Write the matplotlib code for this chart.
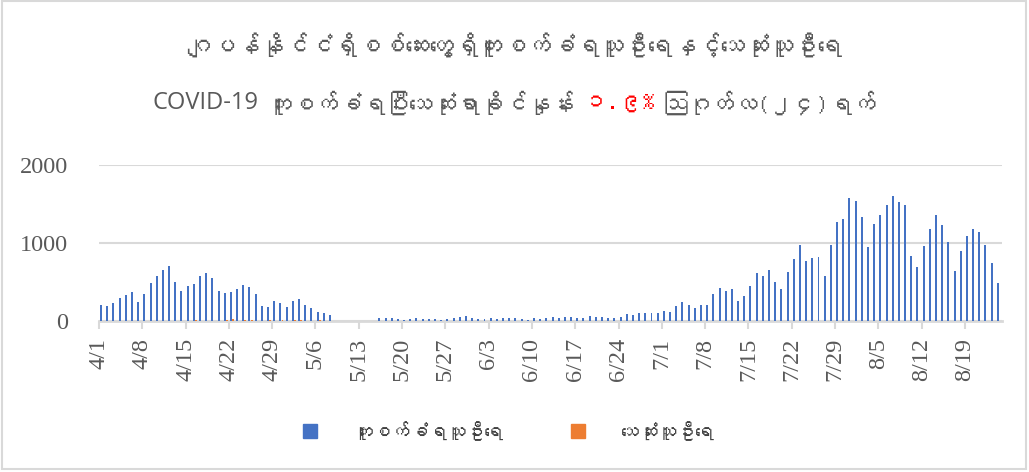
import numpy as np
import pandas as pd
import matplotlib
matplotlib.use('Agg')
import matplotlib.pyplot as plt
from matplotlib import font_manager
from matplotlib.ft2font import FT2Font
from matplotlib.lines import Line2D
from matplotlib.patches import Rectangle

# daily values from 4/1 (one per day)
start_date = '2020-04-01'
cases = [205, 188, 226, 295, 333, 372, 239, 346, 491, 573,
         650, 709, 500, 380, 449, 474, 577, 620, 556, 380,
         359, 372, 415, 462, 436, 342, 192, 179, 261, 226,
         179, 256, 286, 209, 167, 120, 103, 77,
         0, 0, 0, 0, 0, 0, 0,
         43, 43, 43, 26, 9, 30, 38, 26, 26, 26,
         17, 26, 38, 56, 68, 43, 26, 30, 43, 26,
         43, 43, 43, 30, 13, 38, 30, 38, 56, 43,
         56, 56, 43, 43, 68, 56, 56, 43, 43, 56,
         94, 81, 98, 107, 106, 102, 128,
         119, 187, 247, 200, 166, 209, 200, 349, 417, 379,
         404, 260, 323, 451, 617, 583, 660, 506, 413, 626,
         791, 974, 770, 804, 826, 574, 974, 1264, 1306, 1574,
         1536, 1328, 953, 1238, 1357, 1485, 1600, 1528, 1489, 834,
         694, 966, 1174, 1357, 1230, 1017, 638, 902, 1085, 1183,
         1136, 979, 740, 489]
deaths = [1, 2, 1, 3, 2, 3, 2, 4, 3, 5,
          4, 4, 2, 5, 3, 13, 4, 6, 5, 4,
          14, 27, 5, 15, 12, 6, 5, 13, 4, 13,
          5, 14, 15, 6, 4, 12, 3, 4,
          0, 0, 0, 0, 0, 0, 0,
          2, 1, 1, 2, 1, 1, 2, 1, 1, 1,
          1, 1, 2, 1, 1, 1, 1, 1, 0, 1,
          1, 1, 0, 1, 1, 0, 1, 1, 1, 0,
          1, 0, 1, 1, 0, 1, 0, 1, 1, 0,
          1, 0, 1, 1, 0, 1, 0,
          1, 0, 1, 0, 1, 1, 0, 1, 1, 1,
          0, 1, 1, 1, 0, 1, 1, 1, 1, 1,
          1, 1, 1, 2, 1, 1, 2, 2, 1, 2,
          2, 2, 3, 2, 3, 2, 3, 3, 2, 3,
          3, 4, 3, 3, 4, 3, 3, 4, 4, 3,
          3, 4, 3, 3]

title1 = 'ဂျပန်နိုင်ငံရှိစစ်ဆေးတွေ့ရှိကူးစက်ခံရသူဦးရေနှင့်သေဆုံးသူဦးရေ'
title2 = ['COVID-19', 'ကူးစက်ခံရပြီးသေဆုံးရာခိုင်နှုန်း', '၁.၉%', 'ဩဂုတ်လ(၂၄)ရက်']
series_names = ['ကူးစက်ခံရသူဦးရေ', 'သေဆုံးသူဦးရေ']


def find_font(ch):
    for f in font_manager.fontManager.ttflist:
        try:
            if ord(ch) in FT2Font(f.fname).get_charmap():
                return f.name
        except Exception:
            pass
    return None


mm = find_font('က')
mm_family = [mm, 'DejaVu Sans'] if mm else ['Noto Sans', 'DejaVu Sans']

dates = pd.date_range(start_date, periods=len(cases))
labels = [f'{d.month}/{d.day}' for d in dates]
x = np.arange(len(cases))

W, H = 1029, 472
fig = plt.figure(figsize=(W / 100, H / 100), dpi=100)
ax = fig.add_axes([99 / W, 1 - 321 / H, 903 / W, 156 / H])

ax.bar(x - 0.17, cases, width=0.32, color='#4472C4', zorder=3)
ax.bar(x + 0.17, deaths, width=0.32, color='#ED7D31', zorder=3)

ax.set_xlim(-0.5, len(x) - 0.5)
ax.set_ylim(0, 2000)
ax.set_yticks([0, 1000, 2000])
ax.set_xticks(x[::7] - 0.5)
ax.set_xticklabels(labels[::7], rotation=90)
for lab in ax.get_xticklabels() + ax.get_yticklabels():
    lab.set_family('Liberation Serif')
    lab.set_fontsize(17.5)
    lab.set_color('#595959')

ax.grid(axis='y', color='#D9D9D9', lw=1.5, zorder=0)
for s in ['top', 'right', 'left']:
    ax.spines[s].set_visible(False)
ax.spines['bottom'].set_color('#D9D9D9')
ax.spines['bottom'].set_linewidth(2)
ax.tick_params(axis='x', length=6, width=1.5, color='#D9D9D9', pad=6)
ax.tick_params(axis='y', length=0, pad=22)

# title
fig.text(0.5, 1 - 45 / H, title1, ha='center', va='center', family=mm_family,
         fontsize=17.5, color='#595959')

fig.canvas.draw()
r = fig.canvas.get_renderer()
colors = ['#595959', '#595959', '#FF0000', '#595959']
fams = [['Open Sans', 'DejaVu Sans'], mm_family, mm_family, mm_family]
texts = [fig.text(0, 1 - 103 / H, s, va='center', family=f, fontsize=17, color=c)
         for s, c, f in zip(title2, colors, fams)]
gap = 9
widths = [t.get_window_extent(r).width for t in texts]
x0 = (W - sum(widths) - gap * (len(texts) - 1)) / 2
for t, w in zip(texts, widths):
    t.set_x(x0 / W)
    x0 += w + gap

handles = [Line2D([], [], ls='none', marker='s', markersize=10, color='#4472C4'),
           Line2D([], [], ls='none', marker='s', markersize=10, color='#ED7D31')]
leg = fig.legend(handles, series_names, loc='center', bbox_to_anchor=(503 / W, 1 - 431 / H),
                 ncol=2, frameon=False, handletextpad=1.3, columnspacing=3.0,
                 prop={'family': mm_family, 'size': 13.5})
for t in leg.get_texts():
    t.set_color('#404040')

fig.patches.append(Rectangle((2 / W, 3 / H), (W - 5) / W, (H - 4) / H, transform=fig.transFigure,
                             fill=False, edgecolor='#D9D9D9', lw=1.5))

fig.savefig('out.png', dpi=100)
